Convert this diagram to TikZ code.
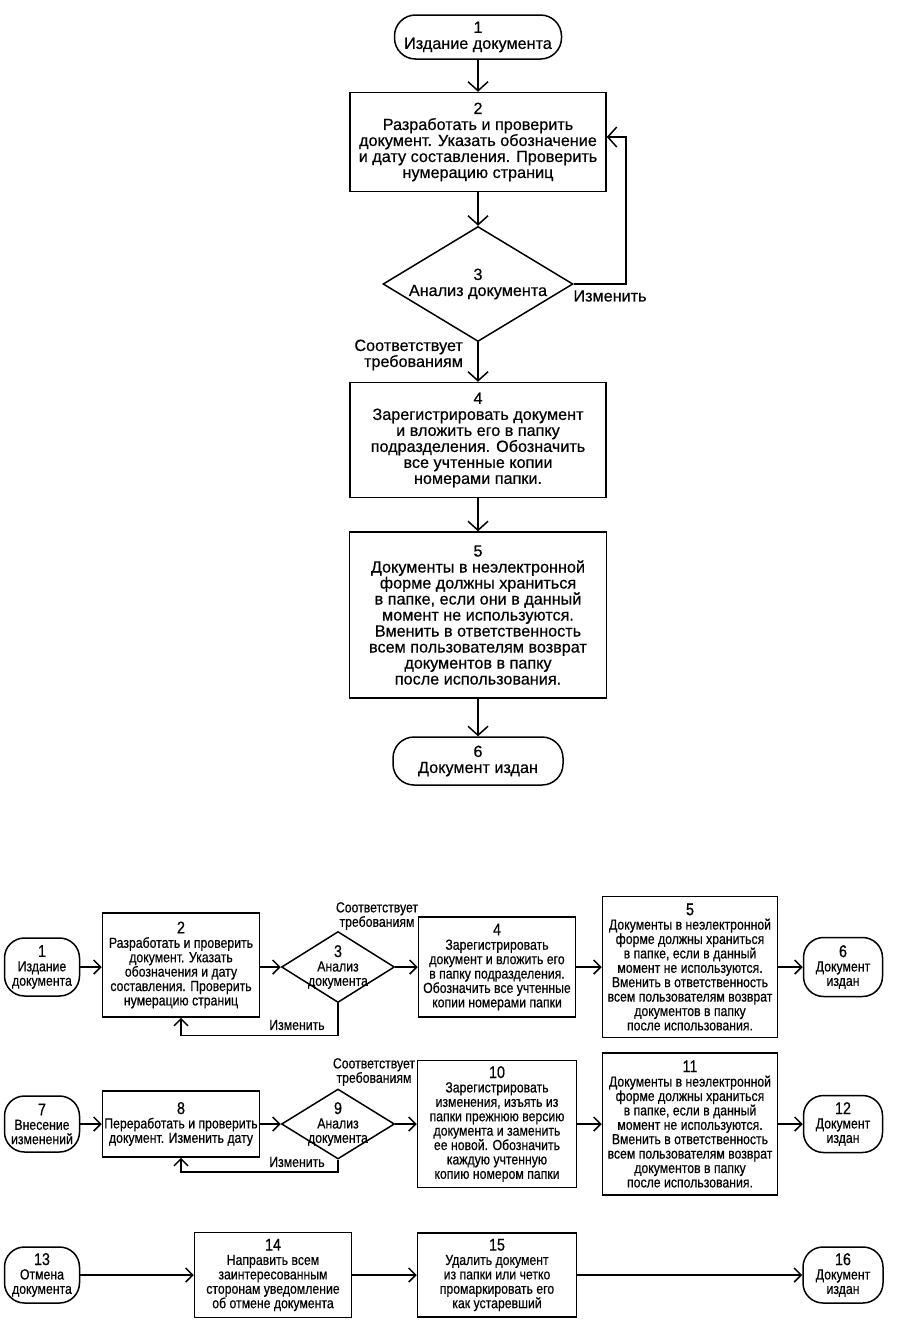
\documentclass[tikz,border=0pt]{standalone}
\usepackage{fontspec}
\setmainfont{Liberation Sans}
\newfontfamily\topsans[FakeBold=0.5]{Liberation Sans}
\newfontfamily\narrowsans[FakeStretch=0.84,FakeBold=0.5]{Liberation Sans}
\newcommand{\nr}[1]{{\fontsize{17}{16}\selectfont #1}}
\usetikzlibrary{shapes.geometric,arrows.meta}

\begin{document}
\begin{tikzpicture}[x=1pt,y=-1pt,line width=1.5pt,
		topfont/.style={font=\topsans\fontsize{16.2}{16}\selectfont},
		lowfont/.style={font=\narrowsans\fontsize{14.6}{14.4}\selectfont},
		tterm/.style={draw,rectangle,rounded corners=21pt,inner sep=0pt,align=center,topfont},
		tproc/.style={draw,rectangle,inner sep=0pt,align=center,topfont},
		ttest/.style={draw,diamond,aspect=1.65,inner xsep=0pt,inner ysep=-6pt,align=center,topfont},
		lterm/.style={draw,rectangle,rounded corners=20pt,inner sep=0pt,align=center,lowfont},
		lproc/.style={draw,rectangle,inner sep=0pt,align=center,lowfont},
		ltest/.style={draw,diamond,aspect=1.6,inner xsep=0pt,inner ysep=-12pt,align=center,lowfont,minimum width=113pt,minimum height=71pt},
		tarr/.style={-{Straight Barb[length=9pt,width=20pt]}},
		larr/.style={-{Straight Barb[length=7pt,width=14pt]}}]
	\useasboundingbox (0,0) rectangle (901,1331);
	\node[tterm,minimum width=167pt,minimum height=44pt] (t1) at (478,37) {1\\Издание документа};
	\node[tproc,minimum width=256pt,minimum height=99pt] (t2) at (478,142) {2\\Разработать и проверить\\документ. Указать обозначение\\и дату составления. Проверить\\нумерацию страниц};
	\node[ttest,minimum width=190pt,minimum height=115pt] (t3) at (478,284) {3\\Анализ документа};
	\node[tproc,minimum width=256pt,minimum height=115pt] (t4) at (478,440) {4\\Зарегистрировать документ\\и вложить его в папку\\подразделения. Обозначить\\все учтенные копии\\номерами папки.};
	\node[tproc,minimum width=257pt,minimum height=166pt] (t5) at (478,615) {5\\Документы в неэлектронной\\форме должны храниться\\в папке, если они в данный\\момент не используются.\\Вменить в ответственность\\всем пользователям возврат\\документов в папку\\после использования.};
	\node[tterm,minimum width=170pt,minimum height=48pt] (t6) at (478,761) {6\\Документ издан};
	\draw[tarr] (t1) -- (t2);
	\draw[tarr] (t2) -- (t3);
	\draw[tarr] (t3) -- (t4);
	\draw[tarr] (t4) -- (t5);
	\draw[tarr] (t5) -- (t6);
	\draw[tarr] (t3.east) -- ++(52,0) |- ([yshift=5pt]t2.east);
	\node[topfont] (tno) at (610,296) {Изменить};
	\node[topfont,align=right,anchor=east] (tyes) at (467,355) {Соответствует\\требованиям};

	\node[lterm,minimum width=75pt,minimum height=58pt] (a1) at (42,967) {\nr{1}\\Издание\\документа};
	\node[lproc,minimum width=157pt,minimum height=104pt] (a2) at (181,965) {\nr{2}\\Разработать и проверить\\документ. Указать\\обозначения и дату\\составления. Проверить\\нумерацию страниц};
	\node[ltest] (a3) at (338,967) {\nr{3}\\Анализ\\документа};
	\node[lproc,minimum width=157pt,minimum height=100pt] (a4) at (497,967) {\nr{4}\\Зарегистрировать\\документ и вложить его\\в папку подразделения.\\Обозначить все учтенные\\копии номерами папки};
	\node[lproc,minimum width=175pt,minimum height=141pt] (a5) at (690,967) {\nr{5}\\Документы в неэлектронной\\форме должны храниться\\в папке, если в данный\\момент не используются.\\Вменить в ответственность\\всем пользователям возврат\\документов в папку\\после использования.};
	\node[lterm,minimum width=79pt,minimum height=59pt] (a6) at (843,967) {\nr{6}\\Документ\\издан};
	\draw[larr] (a1) -- (a1 -| a2.west);
	\draw[larr] (a2.east |- a3) -- (a3);
	\draw[larr] (a3) -- (a4);
	\draw[larr] (a4) -- (a5);
	\draw[larr] (a5) -- (a6);
	\draw[larr] (a3.south) -- ++(0,32) -| (a2.south);
	\node[lowfont] (ano) at (297,1025) {Изменить};
	\node[lowfont,align=center] (ayes) at (377,916) {Соответствует\\требованиям};

	\node[lterm,minimum width=75pt,minimum height=56pt] (b7) at (42,1124) {\nr{7}\\Внесение\\изменений};
	\node[lproc,minimum width=157pt,minimum height=66pt] (b8) at (181,1124) {\nr{8}\\Переработать и проверить\\документ. Изменить дату};
	\node[ltest,minimum height=70pt] (b9) at (338,1124) {\nr{9}\\Анализ\\документа};
	\node[lproc,minimum width=159pt,minimum height=127pt] (b10) at (497,1124) {\nr{10}\\Зарегистрировать\\изменения, изъять из\\папки прежнюю версию\\документа и заменить\\ее новой.  Обозначить\\каждую учтенную\\копию номером папки};
	\node[lproc,minimum width=175pt,minimum height=142pt] (b11) at (690,1124) {\nr{11}\\Документы в неэлектронной\\форме должны храниться\\в папке, если в данный\\момент не используются.\\Вменить в ответственность\\всем пользователям возврат\\документов в папку\\после использования.};
	\node[lterm,minimum width=79pt,minimum height=57pt] (b12) at (843,1124) {\nr{12}\\Документ\\издан};
	\draw[larr] (b7) -- (b8);
	\draw[larr] (b8) -- (b9);
	\draw[larr] (b9) -- (b10);
	\draw[larr] (b10) -- (b11);
	\draw[larr] (b11) -- (b12);
	\draw[larr] (b9.south) -- ++(0,12) -| (b8.south);
	\node[lowfont] (bno) at (297,1162) {Изменить};
	\node[lowfont,align=center] (byes) at (374,1072) {Соответствует\\требованиям};

	\node[lterm,minimum width=75pt,minimum height=56pt] (c13) at (42,1275) {\nr{13}\\Отмена\\документа};
	\node[lproc,minimum width=157pt,minimum height=85pt] (c14) at (273,1275) {\nr{14}\\Направить всем\\заинтересованным\\сторонам уведомление\\об отмене документа};
	\node[lproc,minimum width=159pt,minimum height=84pt] (c15) at (497,1275) {\nr{15}\\Удалить документ\\из папки или четко\\промаркировать его\\как устаревший};
	\node[lterm,minimum width=80pt,minimum height=56pt] (c16) at (843,1275) {\nr{16}\\Документ\\издан};
	\draw[larr] (c13) -- (c14);
	\draw[larr] (c14) -- (c15);
	\draw[larr] (c15) -- (c16);
\end{tikzpicture}
\end{document}
